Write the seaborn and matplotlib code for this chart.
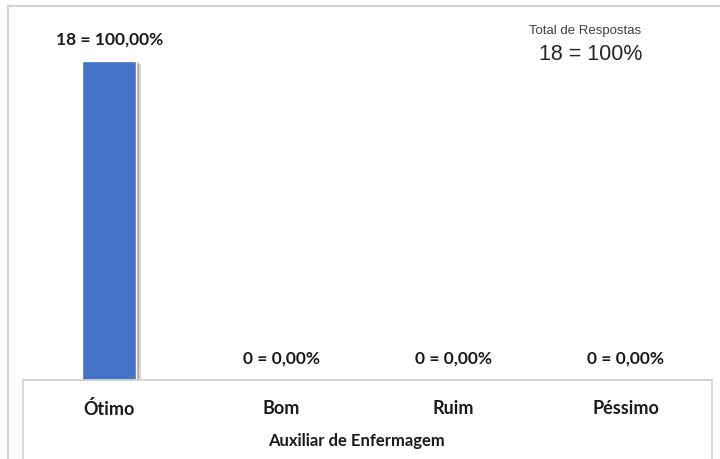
import matplotlib
matplotlib.use("Agg")
import matplotlib.pyplot as plt
import matplotlib.patheffects as pe
from matplotlib.lines import Line2D
import seaborn as sns
import pandas as pd

categorias = ["Ótimo", "Bom", "Ruim", "Péssimo"]
respostas = [18, 0, 0, 0]
percentuais = ["100,00%", "0,00%", "0,00%", "0,00%"]
total = 18
titulo_eixo = "Auxiliar de Enfermagem"

sns.set_style("white")
plt.rcParams["font.family"] = ["Lato", "DejaVu Sans"]

W, H = 720, 460
fig = plt.figure(figsize=(7.2, 4.6), dpi=100)
fig.patch.set_facecolor("white")
fig.patch.set_edgecolor("none")
ax = fig.add_axes([23 / W, (H - 381) / H, (712 - 23) / W, (381 - 15) / H])

df = pd.DataFrame({"categoria": categorias, "respostas": respostas})
sns.barplot(data=df, x="categoria", y="respostas", color="#4472C4",
            saturation=1, width=0.31, ax=ax)

# soft shadow on the bars
for p in ax.patches:
    p.set_path_effects([pe.SimplePatchShadow(offset=(3.5, -2), shadow_rgbFace="#888888", alpha=0.35),
                        pe.SimplePatchShadow(offset=(2, -1), shadow_rgbFace="#777777", alpha=0.45),
                        pe.Normal()])

ax.set_ylim(0, 18 * 366 / 319)
ax.set_xlim(-0.5, 3.5)

for i, (v, pct) in enumerate(zip(respostas, percentuais)):
    ax.annotate(f"{v} = {pct}", (i, v), xytext=(0, 16), textcoords="offset points",
                ha="center", va="center", fontsize=12.5, fontweight="bold", color="#1a1a1a")

ax.set_yticks([])
ax.set_xticks(range(len(categorias)))
ax.set_xticklabels(categorias, fontsize=13, fontweight="bold", color="#1a1a1a")
ax.tick_params(axis="x", length=0, pad=14)
ax.set_xlabel(titulo_eixo, fontsize=12, fontweight="bold", color="#1a1a1a")
ax.xaxis.set_label_coords((356 - 23) / (712 - 23), -52 / 366)
ax.set_ylabel("")

for s in ["top", "left", "right"]:
    ax.spines[s].set_visible(False)
ax.spines["bottom"].set_color("#d0d0d0")
ax.spines["bottom"].set_linewidth(1.3)

# outer frame and inner axis box
cinza = "#d4d4d4"
fig.add_artist(Line2D([8 / W, 8 / W], [0, 1 - 7 / H], color=cinza, lw=1.5))
fig.add_artist(Line2D([8 / W, 1], [1 - 7 / H, 1 - 7 / H], color=cinza, lw=1.5))
fig.add_artist(Line2D([23 / W, 23 / W], [0, (H - 381) / H], color=cinza, lw=1.3))
fig.add_artist(Line2D([712 / W, 712 / W], [0, (H - 381) / H], color=cinza, lw=1.3))

fig.text(585 / W, 1 - 31 / H, "Total de Respostas", fontsize=9.5, color="#404040",
         ha="center", va="center", family=["Liberation Sans", "DejaVu Sans"])
fig.text(591 / W, 1 - 55 / H, f"{total} = 100%", fontsize=15.5, color="#262626",
         ha="center", va="center", family=["Liberation Sans", "DejaVu Sans"])

fig.savefig("out.png", dpi=100)
